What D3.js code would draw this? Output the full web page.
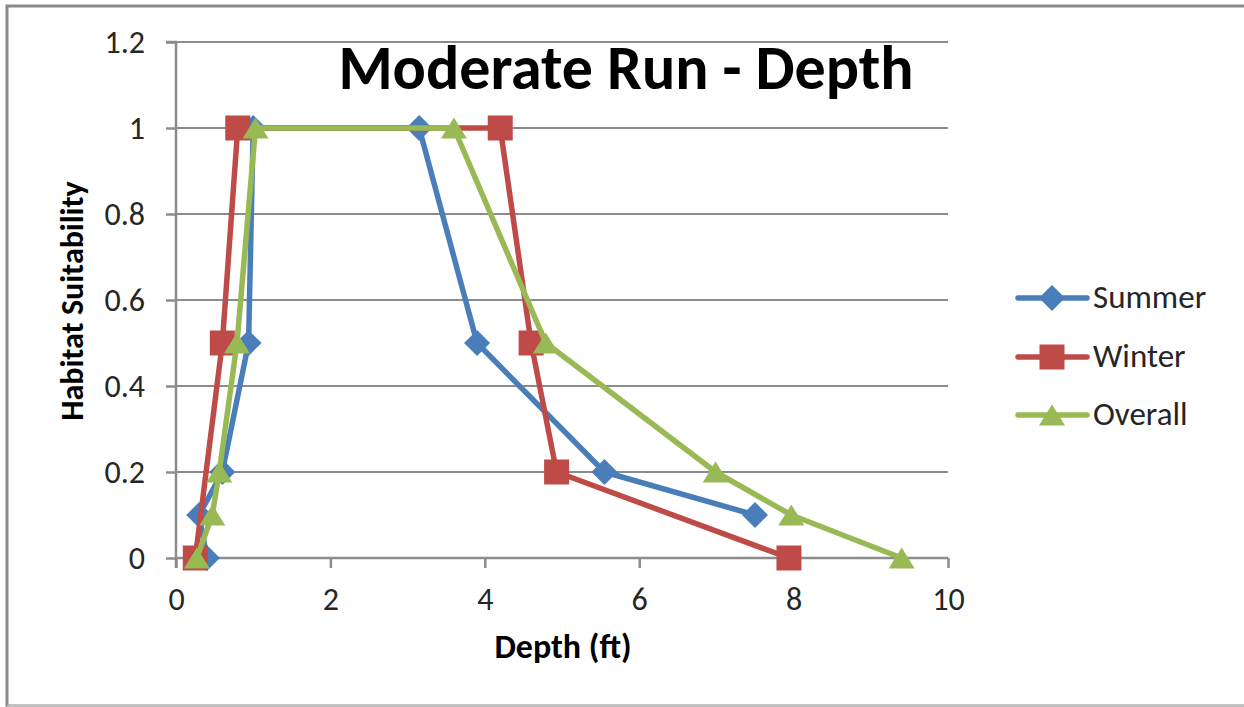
<!DOCTYPE html>
<html><head><meta charset="utf-8">
<script src="https://cdn.jsdelivr.net/npm/d3@7"></script>
<style>body{margin:0;background:#fff}svg{display:block}</style>
</head><body>
<svg id="c" width="1244" height="707"></svg>
<script>
const seriesNames = ["Summer", "Winter", "Overall"];
const summerDepth = [0.4, 0.3, 0.6, 0.94, 1.0, 3.15, 3.9, 5.55, 7.5];
const summerValue = [0, 0.1, 0.2, 0.5, 1, 1, 0.5, 0.2, 0.1];
const winterDepth = [0.25, 0.6, 0.8, 4.2, 4.6, 4.93, 7.94];
const winterValue = [0, 0.5, 1, 1, 0.5, 0.2, 0];
const overallDepth = [0.27, 0.47, 0.56, 0.79, 1.03, 3.6, 4.79, 6.99, 7.97, 9.4];
const overallValue = [0, 0.1, 0.2, 0.5, 1, 1, 0.5, 0.2, 0.1, 0];
const xTicks = [0, 2, 4, 6, 8, 10];
const yTicks = [0, 0.2, 0.4, 0.6, 0.8, 1, 1.2];
const colors = ["#4a7ebb", "#be4b48", "#98b954"];

const svg = d3.select("#c");
const font = "Calibri, Carlito, 'Open Sans', 'Liberation Sans', sans-serif";

// marker shapes (Excel-like, box-centred)
function marker(k) {
  if (k === 0) return "M0,-13L13,0L0,13L-13,0Z";            // diamond
  if (k === 1) return "M-12.5,-12.5H12.5V12.5H-12.5Z";     // square
  return "M0,-10.5L13,10.5H-13Z";                          // triangle
}

// outer frame
svg.append("rect").attr("x", 7).attr("y", 6).attr("width", 1250).attr("height", 700)
  .attr("fill", "none").attr("stroke", "#8a8a8a").attr("stroke-width", 3);
svg.append("line").attr("x1", 7).attr("x2", 1244).attr("y1", 706).attr("y2", 706)
  .attr("stroke", "#d0d0d0").attr("stroke-width", 1.5);

const x = d3.scaleLinear().domain([0, 10]).range([176, 948]);
const y = d3.scaleLinear().domain([0, 1.2]).range([558, 42]);

// gridlines
svg.append("g").selectAll("line").data(yTicks.filter(d => d > 0)).join("line")
  .attr("x1", x(0)).attr("x2", x(10)).attr("y1", d => y(d)).attr("y2", d => y(d))
  .attr("stroke", "#8c8c8c").attr("stroke-width", 2);

// axes
const yAxis = svg.append("g").attr("transform", `translate(${x(0)},0)`)
  .call(d3.axisLeft(y).tickValues(yTicks).tickFormat(d => String(+d.toFixed(1))).tickSize(10).tickPadding(21));
const xAxis = svg.append("g").attr("transform", `translate(0,${y(0)})`)
  .call(d3.axisBottom(x).tickValues(xTicks).tickFormat(d3.format("d")).tickSize(10).tickPadding(19));
[yAxis, xAxis].forEach(a => {
  a.selectAll(".domain").attr("stroke", "#8c8c8c").attr("stroke-width", 2.5);
  a.selectAll(".tick line").attr("stroke", "#8c8c8c").attr("stroke-width", 2.5);
  a.selectAll("text").attr("font-family", font).attr("font-size", 32).attr("fill", "#262626");
});
yAxis.select(".domain").attr("d", `M-10,${y(1.2)}H0V${y(0)}`);
xAxis.select(".domain").attr("d", `M${x(0)},10V0H${x(10)}`);

const datasets = [
  summerDepth.map((d, i) => [d, summerValue[i]]),
  winterDepth.map((d, i) => [d, winterValue[i]]),
  overallDepth.map((d, i) => [d, overallValue[i]])
];
const line = d3.line().x(d => x(d[0])).y(d => y(d[1]));

datasets.forEach((data, k) => {
  const g = svg.append("g");
  g.append("path").datum(data).attr("d", line).attr("fill", "none")
    .attr("stroke", colors[k]).attr("stroke-width", 5.5).attr("stroke-linejoin", "round");
  g.selectAll("path.m").data(data).join("path").attr("class", "m")
    .attr("transform", d => `translate(${x(d[0])},${y(d[1])})`)
    .attr("d", marker(k))
    .attr("fill", colors[k]);
});

// title
svg.append("text").attr("x", 626).attr("y", 89).attr("text-anchor", "middle")
  .attr("font-family", font).attr("font-weight", "bold").attr("font-size", 62)
  .attr("fill", "#000").text("Moderate Run - Depth");

// axis titles
svg.append("text").attr("x", 563).attr("y", 658).attr("text-anchor", "middle")
  .attr("font-family", font).attr("font-weight", "bold").attr("font-size", 34)
  .attr("fill", "#000").text("Depth (ft)");
svg.append("text").attr("transform", "translate(83,301) rotate(-90)").attr("text-anchor", "middle")
  .attr("font-family", font).attr("font-weight", "bold").attr("font-size", 32)
  .attr("fill", "#000").text("Habitat Suitability");

// legend
const legY = [298, 357, 415];
seriesNames.forEach((name, k) => {
  const g = svg.append("g").attr("transform", `translate(0,${legY[k]})`);
  g.append("line").attr("x1", 1018).attr("x2", 1087).attr("stroke", colors[k])
    .attr("stroke-width", 5.5).attr("stroke-linecap", "round");
  g.append("path").attr("transform", "translate(1052,0)")
    .attr("d", marker(k)).attr("fill", colors[k]);
  g.append("text").attr("x", 1093).attr("y", 10).attr("font-family", font)
    .attr("font-size", 33).attr("fill", "#262626").text(name);
});
</script>
</body></html>
